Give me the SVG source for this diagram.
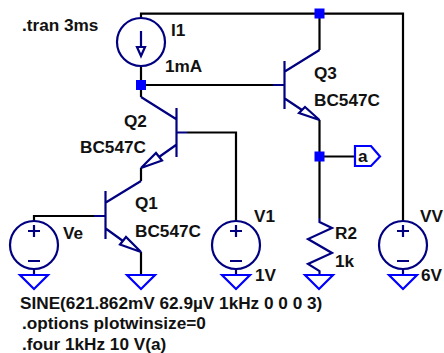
<svg xmlns="http://www.w3.org/2000/svg" width="444" height="353" viewBox="0 0 444 353">
<style>
text{font-family:"Liberation Sans",Arial,sans-serif;font-size:17.200px;font-weight:bold;fill:#111}
.w{fill:none;stroke:#000;stroke-width:2.200}
.s{fill:none;stroke:#000080;stroke-width:2.200}
.j{fill:#0000ff}
.g{fill:none;stroke:#0000ff;stroke-width:2.200}
</style>
<defs>
<g id="vsrc"><circle r="24" class="s"/><path class="s" d="M-6 -14H6M0 -20V-8M-6 16H6"/></g>
<polygon id="gnd" class="g" points="-14,0 14,0 0,14"/>
</defs>
<rect width="444" height="353" fill="#fff"/>
<g id="connectors">
<path class="w" d="M141 18V13.700H403V221"/>
<path class="w" d="M319.500 13.700V50"/>
<path class="w" d="M273 85H141"/>
<path class="w" d="M141 66V97"/>
<path class="w" d="M187 132.500H236V221"/>
<path class="w" d="M141 168V181"/>
<path class="w" d="M94 216H34V221"/>
<path class="w" d="M141 252V275"/>
<path class="w" d="M319.500 120V218"/>
<path class="w" d="M319.500 156.500H355"/>
<rect class="j" x="136" y="80" width="10" height="10"/>
<rect class="j" x="314.500" y="8.500" width="10" height="10"/>
<rect class="j" x="314.500" y="151.500" width="10" height="10"/>
</g>
<g id="I1"><circle cx="141" cy="42" r="24" class="s"/><path class="s" d="M141 31V48"/><polygon class="s" points="137,47 145,47 141,56"/><text x="171" y="36">I1</text><text x="165" y="72">1mA</text></g>
<g id="Q2"><path class="s" d="M141 97L176 119M176.500 108V157M176 132.500H187M176 145L159 157"/><polygon class="s" points="141,168 156,153 162,160.500"/><text x="124" y="127">Q2</text><text x="80" y="153">BC547C</text></g>
<g id="Q3"><path class="s" d="M319.500 50L284 72M284.500 61V109M273 85H284M284 98L302 110"/><polygon class="s" points="319.500,120 305,107 299,113"/><text x="314" y="79">Q3</text><text x="314" y="106">BC547C</text></g>
<g id="Q1"><path class="s" d="M141 181L105 203M105.500 191V239M94 216H105M105 228L123 241"/><polygon class="s" points="141,252 126,237 120,244.500"/><text x="135" y="209">Q1</text><text x="135" y="237">BC547C</text></g>
<g id="Ve"><use href="#vsrc" x="34" y="245"/><path class="s" d="M34 269V275"/><use href="#gnd" x="34" y="275"/><text x="63" y="239">Ve</text></g>
<g id="GND1"><use href="#gnd" x="141" y="275"/></g>
<g id="V1"><use href="#vsrc" x="236" y="245"/><path class="s" d="M236 269V275"/><use href="#gnd" x="236" y="275"/><text x="254" y="222">V1</text><text x="255" y="281">1V</text></g>
<g id="R2"><path class="s" d="M319.500 218V222L332 228L308 239L332 253L308 264L319.500 271V275"/><use href="#gnd" x="319" y="275"/><text x="335" y="239">R2</text><text x="335" y="267">1k</text></g>
<g id="VV"><use href="#vsrc" x="403" y="245"/><path class="s" d="M403 269V275"/><use href="#gnd" x="403" y="275"/><text x="420" y="222">VV</text><text x="421" y="281">6V</text></g>
<g id="a"><polygon class="g" points="355,146 371,146 380,156.500 371,166 355,166"/><text x="358" y="162">a</text></g>
<g id="directives"><text x="22" y="31">.tran 3ms</text><text x="20" y="309">SINE(621.862mV 62.9µV 1kHz 0 0 0 3)</text><text x="22" y="329">.options plotwinsize=0</text><text x="22" y="350">.four 1kHz 10 V(a)</text></g>
</svg>
